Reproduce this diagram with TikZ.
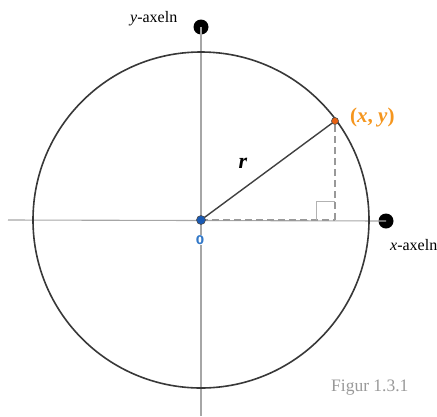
\documentclass[tikz,border=0pt]{standalone}
\usepackage{fontspec}
\setmainfont{Liberation Serif}
\newfontfamily\zerofont{DejaVu Sans}
\begin{document}
\begin{tikzpicture}[x=1pt,y=-1pt,
  axis/.style={draw=gray!70, line width=1.1pt},
  circ/.style={draw=black!78, line width=1.6pt},
  dashline/.style={draw=gray!80, line width=1.6pt, dash pattern=on 7pt off 4pt},
  bigdot/.style={circle, fill=black, inner sep=0pt, minimum size=15pt},
  lbl/.style={font=\fontsize{16}{18}\selectfont, inner sep=0pt}]
\useasboundingbox (0,0) rectangle (437,416);
\coordinate (O) at (201,220);
\coordinate (P) at (335,121);
\coordinate (F) at (335,220);
\coordinate (xl) at (8,220);
\coordinate (yb) at (201,416);
\node[bigdot] (ydot) at (201,27) {};
\node[bigdot] (xdot) at (386,221) {};
\draw[axis] (xl) -- (xdot.center);
\draw[axis] (yb) -- (ydot.center);
\draw[circ] (O) circle (168);
\draw[dashline] (O) -- (F);
\draw[dashline] (F) -- (P);
\draw[draw=gray!60, line width=1pt] (316,220) -- (316,201) -- (335,201);
\draw[draw=black!75, line width=1.4pt] (O) -- (P);
\node[circle, fill={rgb,255:red,232;green,96;blue,16}, draw=black!70, line width=0.6pt, inner sep=0pt, minimum size=7pt] (pt) at (P) {};
\node[circle, fill={rgb,255:red,25;green,90;blue,180}, draw=black!70, line width=0.6pt, inner sep=0pt, minimum size=9pt] (o) at (O) {};
\node[lbl, text={rgb,255:red,245;green,150;blue,30}, font=\fontsize{21}{23}\selectfont\bfseries, anchor=west] (plbl) at (350,117) {(\textit{x}, \textit{y})};
\node[lbl, font=\fontsize{22}{24}\selectfont\bfseries\itshape] (r) at (243,163) {r};
\node[lbl, fill=white, inner sep=0.5pt, text={rgb,255:red,50;green,120;blue,200}, font=\zerofont\bfseries\fontsize{12}{14}\selectfont] (zero) at (200,240) {0};
\node[lbl, anchor=west] (ylbl) at (130,19) {\textit{y}-axeln};
\node[lbl, anchor=west] (xlbl) at (390,245) {\textit{x}-axeln};
\node[lbl, text=gray!80, font=\fontsize{17.5}{20}\selectfont, anchor=west] (fig) at (331,388) {Figur 1.3.1};
\end{tikzpicture}
\end{document}
